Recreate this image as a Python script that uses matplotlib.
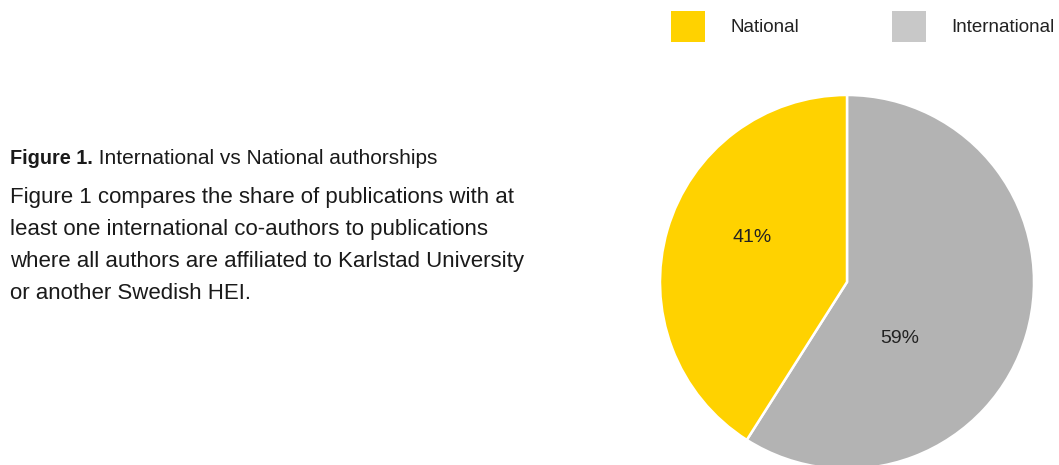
import matplotlib.pyplot as plt
from matplotlib.patches import Patch
import numpy as np

plt.rcParams['font.family'] = ['Liberation Sans', 'DejaVu Sans']

# data
labels = ['International', 'National']
shares = [59, 41]
pie_colors = ['#b3b3b3', '#ffd200']
legend_labels = ['National', 'International']
legend_colors = ['#ffd200', '#c8c8c8']
# where the percent labels sit (radius fraction, angle in degrees)
label_pos = [(0.41, -47), (0.56, 155)]

heading = 'Figure 1.'
heading_rest = ' International vs National authorships'
body = ['Figure 1 compares the share of publications with at',
        'least one international co-authors to publications',
        'where all authors are affiliated to Karlstad University',
        'or another Swedish HEI.']

W, H = 1059, 465
fig = plt.figure(figsize=(W / 100, H / 100), dpi=100)
fig.patch.set_facecolor('white')

# pie axes: centre (847, 282) px, radius 187 px
cx, cy, r = 847, 282, 187
ax = fig.add_axes([(cx - r) / W, (H - cy - r) / H, 2 * r / W, 2 * r / H])
wedges, _ = ax.pie(shares, colors=pie_colors, startangle=90, counterclock=False,
                   wedgeprops=dict(edgecolor='white', linewidth=1.8))
ax.set_xlim(-1, 1)
ax.set_ylim(-1, 1)
ax.set_aspect('equal')
ax.axis('off')

for val, (d, ang) in zip(shares, label_pos):
    a = np.deg2rad(ang)
    ax.text(d * np.cos(a), d * np.sin(a), f'{val}%', ha='center', va='center',
            fontsize=14, color='#222222')

# legend
handles = [Patch(facecolor=c, edgecolor='none') for c in legend_colors]
fig.legend(handles, legend_labels, loc='upper left',
           bbox_to_anchor=(671 / W, 1 - 11 / H), ncol=2, frameon=False,
           fontsize=13.5, handlelength=1.81, handleheight=2.17,
           handletextpad=1.39, columnspacing=4.9, borderpad=0,
           borderaxespad=0, labelcolor='#222222')

# caption text on the left
t = fig.text(10 / W, 1 - 158 / H, heading, fontsize=14.3, fontweight='bold',
             color='#1a1a1a', va='center', ha='left')
fig.canvas.draw()
bb = t.get_window_extent()
fig.text(bb.x1 / W, 1 - 158 / H, heading_rest, fontsize=15,
         color='#1a1a1a', va='center', ha='left')

for i, line in enumerate(body):
    fig.text(10 / W, 1 - (197 + 32 * i) / H, line, fontsize=16,
             color='#1a1a1a', va='center', ha='left')

fig.savefig('out.png', dpi=100, facecolor='white')
